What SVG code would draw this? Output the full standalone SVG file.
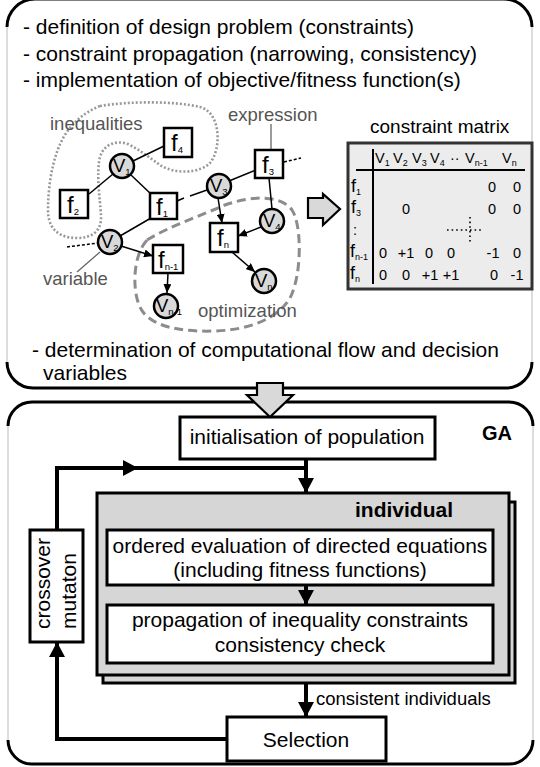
<svg xmlns="http://www.w3.org/2000/svg" width="540" height="767" viewBox="0 0 540 767">
<defs>
<style>
text{font-family:"Liberation Sans",Arial,sans-serif;fill:#000}
.main{font-size:21px}
.bold{font-weight:bold}
.lbl{font-size:18.5px;fill:#555}
.nl{font-size:18.5px}
.fl{font-size:24px}
.sub{font-size:9.5px}
.mx{font-size:14.5px}
.mf{font-size:18px}
.ms{font-size:9px}
.mid{text-anchor:middle}
.box{fill:#fff;stroke:#000;stroke-width:2.5}
.circ{fill:#d9d9d9;stroke:#000;stroke-width:2.5}
.edge{stroke:#000;stroke-width:1.5;fill:none}
.dash{stroke:#000;stroke-width:1.5;fill:none;stroke-dasharray:3 2}
.ptr{stroke:#666;stroke-width:1.3;fill:none}
.thick{stroke:#000;stroke-width:4;fill:none}
.border{stroke:#000;stroke-width:3;fill:none}
.side{stroke:#bbb;stroke-width:1;fill:none}
.rbox{fill:#fff;stroke:#000;stroke-width:3}
.stack{fill:#d6d6d6;stroke:#000;stroke-width:3}
.block{fill:#d9d9d9;stroke:#000;stroke-width:2.2;stroke-linejoin:miter}
</style>
<marker id="ah" markerWidth="9" markerHeight="8" refX="9" refY="4" orient="auto" markerUnits="userSpaceOnUse"><path d="M0,0 L9,4 L0,8 z" fill="#000"/></marker>
<marker id="bh" markerWidth="15" markerHeight="16" refX="15" refY="8" orient="auto" markerUnits="userSpaceOnUse"><path d="M0,0 L15,8 L0,16 z" fill="#000"/></marker>
</defs>

<!-- panels -->
<g id="panel-top">
<path class="border" d="M7,27 A28,28 0 0 1 35,-1 L504,-1 A28,28 0 0 1 532,27"/>
<path class="border" d="M7,362 A26,26 0 0 0 33,388 L506,388 A26,26 0 0 0 532,362"/>
<path class="side" d="M7,27 V362 M532,27 V362"/>
<text class="main" x="23" y="34">- definition of design problem (constraints)</text>
<text class="main" x="23" y="61">- constraint propagation (narrowing, consistency)</text>
<text class="main" x="23" y="87">- implementation of objective/fitness function(s)</text>
<text class="main" x="32" y="357">- determination of computational flow and decision</text>
<text class="main" x="43" y="380">variables</text>
</g>

<g id="panel-bottom">
<path class="border" d="M8,426 A24,24 0 0 1 32,402 L509,402 A24,24 0 0 1 533,426"/>
<path class="border" d="M8,740 A24,24 0 0 0 32,764 L509,764 A24,24 0 0 0 533,740"/>
<path class="side" d="M8,426 V740 M533,426 V740"/>
<text class="main bold" x="482" y="440" style="font-size:20px">GA</text>
</g>

<!-- regions -->
<g id="region-inequalities">
<path d="M100,106 C130,101 175,101 200,107 C222,113 221,150 210,163 C200,173 176,175 160,165 C150,158 140,150 128,144 C116,140 104,144 100,157 C96,172 100,200 101,215 C102,232 91,238 77,238 C60,238 48,230 48,210 C48,180 55,145 70,128 C80,116 90,110 100,106 Z" fill="none" stroke="#999" stroke-width="2.6" stroke-dasharray="2 2"/>
<text class="lbl" x="50" y="130">inequalities</text>
</g>
<g id="region-optimization">
<path d="M147,240 C170,226 200,216 225,205 C250,196 280,194 292,210 C302,225 302,275 290,298 C278,318 250,330 215,331 C185,332 155,328 143,312 C132,298 131,258 147,240 Z" fill="none" stroke="#8c8c8c" stroke-width="3" stroke-dasharray="9 5"/>
<text class="lbl" x="198" y="317">optimization</text>
</g>

<!-- graph connectors -->
<g id="graph-connectors">
<line class="edge" x1="133" y1="161" x2="164" y2="146"/>
<line class="edge" x1="113" y1="174" x2="89" y2="194"/>
<line class="edge" x1="131" y1="175" x2="152" y2="195"/>
<line class="edge" x1="151" y1="218" x2="120" y2="236"/>
<line class="edge" x1="177" y1="201" x2="184" y2="198"/>
<line class="edge" x1="190" y1="196" x2="207" y2="190"/>
<line class="edge" x1="256" y1="170" x2="229" y2="181"/>
<line class="edge" x1="269" y1="178" x2="272" y2="209"/>
<line class="edge" x1="218" y1="198" x2="222" y2="223" marker-end="url(#ah)"/>
<line class="edge" x1="261" y1="227" x2="238" y2="236" marker-end="url(#ah)"/>
<line class="edge" x1="232" y1="252" x2="255" y2="272" marker-end="url(#ah)"/>
<line class="edge" x1="121" y1="246" x2="153" y2="256" marker-end="url(#ah)"/>
<line class="edge" x1="168" y1="273" x2="167" y2="293" marker-end="url(#ah)"/>
<line class="dash" x1="67" y1="247" x2="98" y2="243"/>
<line class="dash" x1="284" y1="162" x2="301" y2="158"/>
<line class="ptr" x1="100" y1="252" x2="77" y2="272"/>
<line class="ptr" x1="271" y1="124" x2="271" y2="150"/>
</g>
<text class="lbl" x="228" y="121">expression</text>
<text class="lbl" x="43" y="285">variable</text>

<!-- graph nodes -->
<g id="f2"><rect class="box" x="60" y="190" width="28" height="28"/><text class="fl" x="67" y="213">f<tspan class="sub" dy="2">2</tspan></text></g>
<g id="f4"><rect class="box" x="164" y="128" width="28" height="29"/><text class="fl" x="171" y="151">f<tspan class="sub" dy="2">4</tspan></text></g>
<g id="f1"><rect class="box" x="150" y="193" width="27" height="26"/><text class="fl" x="156" y="215">f<tspan class="sub" dy="2">1</tspan></text></g>
<g id="f3"><rect class="box" x="255" y="150" width="28" height="28"/><text class="fl" x="262" y="173">f<tspan class="sub" dy="2">3</tspan></text></g>
<g id="fn"><rect class="box" x="210" y="223" width="28" height="29"/><text class="fl" x="217" y="246">f<tspan class="sub" dy="2">n</tspan></text></g>
<g id="fn-1"><rect class="box" x="153" y="245" width="30" height="28"/><text class="fl" x="158" y="268">f<tspan class="sub" dy="2">n-1</tspan></text></g>
<g id="V1"><circle class="circ" cx="122" cy="166" r="12"/><text class="nl" x="113" y="172">V<tspan class="sub" dy="3">1</tspan></text></g>
<g id="V2"><circle class="circ" cx="110" cy="242" r="12"/><text class="nl" x="101" y="248">V<tspan class="sub" dy="3">2</tspan></text></g>
<g id="V3"><circle class="circ" cx="219" cy="186" r="12"/><text class="nl" x="210" y="192">V<tspan class="sub" dy="3">3</tspan></text></g>
<g id="V4"><circle class="circ" cx="272" cy="221" r="12"/><text class="nl" x="263" y="227">V<tspan class="sub" dy="3">4</tspan></text></g>
<g id="Vn"><circle class="circ" cx="264" cy="281" r="12"/><text class="nl" x="255" y="287">V<tspan class="sub" dy="3">n</tspan></text></g>
<g id="Vn-1"><circle class="circ" cx="166" cy="306" r="12"/><text class="nl" x="156" y="312">V<tspan class="sub" dy="3">n-1</tspan></text></g>

<!-- transformation arrow -->
<g id="arrow-right"><polygon class="block" points="308,198 323,198 323,194 340,209 323,225 323,218 308,218"/></g>

<!-- constraint matrix -->
<g id="constraint-matrix">
<text x="370" y="133" style="font-size:19px">constraint matrix</text>
<rect x="348" y="143" width="184" height="146" fill="#ececec" stroke="#333" stroke-width="3"/>
<line x1="373" y1="149" x2="373" y2="284" stroke="#000" stroke-width="2"/>
<line x1="356" y1="170" x2="525" y2="170" stroke="#000" stroke-width="2"/>
<g class="mx">
<text x="375" y="163" class="mx">V<tspan class="ms" dy="3">1</tspan></text>
<text x="393" y="163" class="mx">V<tspan class="ms" dy="3">2</tspan></text>
<text x="412" y="163" class="mx">V<tspan class="ms" dy="3">3</tspan></text>
<text x="430" y="163" class="mx">V<tspan class="ms" dy="3">4</tspan></text>
<text x="450" y="163" class="mx">··</text>
<text x="465" y="163" class="mx">V<tspan class="ms" dy="3">n-1</tspan></text>
<text x="502" y="163" class="mx">V<tspan class="ms" dy="3">n</tspan></text>
<text x="351" y="192" class="mf">f<tspan class="ms" dy="3">1</tspan></text>
<text x="351" y="213" class="mf">f<tspan class="ms" dy="3">3</tspan></text>
<text x="353" y="235" class="mx">:</text>
<text x="350" y="257" class="mf">f<tspan class="ms" dy="3">n-1</tspan></text>
<text x="350" y="279" class="mf">f<tspan class="ms" dy="3">n</tspan></text>
<text class="mx mid" x="492" y="192">0</text><text class="mx mid" x="517" y="192">0</text>
<text class="mx mid" x="406" y="214">0</text><text class="mx mid" x="492" y="214">0</text><text class="mx mid" x="517" y="214">0</text>
<text class="mx mid" x="383" y="258">0</text><text class="mx mid" x="406" y="258">+1</text><text class="mx mid" x="429" y="258">0</text><text class="mx mid" x="451" y="258">0</text><text class="mx mid" x="493" y="258">-1</text><text class="mx mid" x="517" y="258">0</text>
<text class="mx mid" x="383" y="280">0</text><text class="mx mid" x="406" y="280">0</text><text class="mx mid" x="430" y="280">+1</text><text class="mx mid" x="451" y="280">+1</text><text class="mx mid" x="494" y="280">0</text><text class="mx mid" x="517" y="280">-1</text>
</g>
<path d="M447,230 H483 M470,217 V243" stroke="#000" stroke-width="1.6" stroke-dasharray="1.6 3" fill="none"/>
</g>

<!-- GA flow -->
<g id="init"><rect class="rbox" x="180" y="417" width="255" height="42"/><text class="main mid" x="307" y="444">initialisation of population</text></g>

<g id="individual">
<rect class="stack" x="103" y="502" width="412" height="181"/>
<rect class="stack" x="97" y="493" width="412" height="182"/>
<text class="main bold" x="355" y="517">individual</text>
</g>
<g id="evaluation"><rect class="rbox" x="107" y="530" width="386" height="55"/><text class="main mid" x="300" y="553">ordered evaluation of directed equations</text><text class="main mid" x="300" y="577">(including fitness functions)</text></g>
<g id="propagation"><rect class="rbox" x="107" y="605" width="386" height="58"/><text class="main mid" x="300" y="627">propagation of inequality constraints</text><text class="main mid" x="300" y="652">consistency check</text></g>

<g id="crossover"><rect class="rbox" x="30" y="530" width="53" height="112"/>
<text class="main" transform="translate(50,629) rotate(-90)">crossover</text>
<text class="main" transform="translate(76,629) rotate(-90)">mutaton</text></g>

<g id="selection"><rect class="rbox" x="227" y="717" width="159" height="44"/><text class="main mid" x="306" y="747">Selection</text></g>

<g id="flow-connectors">
<path class="thick" d="M57,530 V468 H138" marker-end="url(#bh)"/>
<path class="thick" d="M130,468 H306"/>
<path class="thick" d="M306,459 V493" marker-end="url(#bh)"/>
<path class="thick" d="M306,585 V605" marker-end="url(#bh)"/>
<path class="thick" d="M306,683 V717" marker-end="url(#bh)"/>
<path class="thick" d="M227,739 H57 V642" marker-end="url(#bh)"/>
</g>
<text x="316" y="705" style="font-size:18.5px">consistent individuals</text>

<g id="arrow-down"><polygon class="block" points="257,383 283,383 283,395 293,395 270,417 247,395 257,395"/></g>
</svg>
